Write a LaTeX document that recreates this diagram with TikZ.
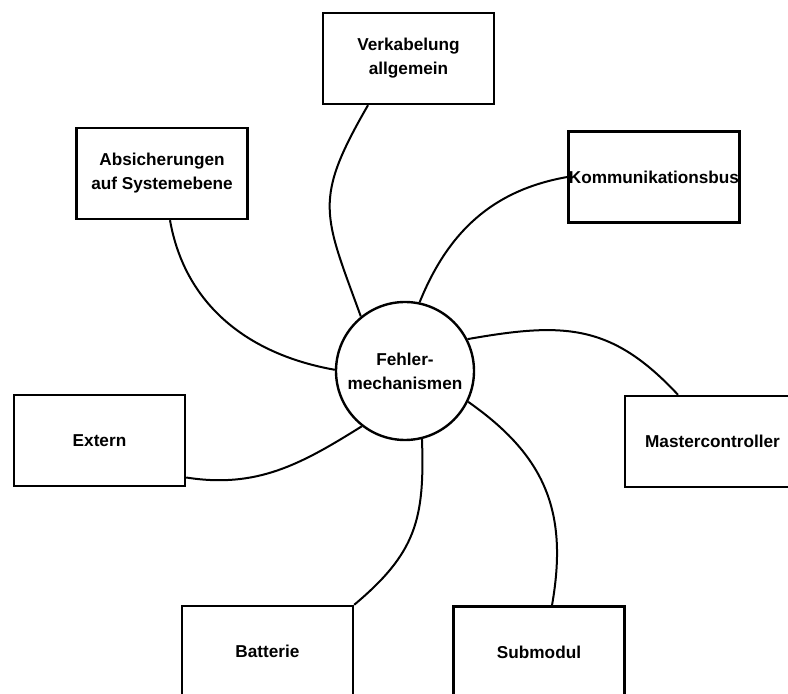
\documentclass[tikz,border=0pt]{standalone}
\usepackage{fontspec}
\setmainfont{Liberation Sans}
\begin{document}
\begin{tikzpicture}[x=1pt,y=1pt,
  lbl/.style={font=\bfseries\fontsize{17.2}{24}\selectfont, align=center},
  box/.style={lbl, draw, line width=2.4pt, minimum width=171pt, minimum height=91pt, inner sep=0pt},
  hub/.style={lbl, draw, circle, line width=2.4pt, minimum size=138pt, inner sep=0pt},
  link/.style={line width=2pt}]
\useasboundingbox (0,0) rectangle (788,694);
\clip (0,0) rectangle (788,694);

% central circle
\node[hub] (c) at (405,323) {Fehler-\\mechanismen};

% surrounding boxes
\node[box] (v) at (408.5,635.5) {Verkabelung\\allgemein};
\node[box] (a) at (162,520.5) {Absicherungen\\auf Systemebene};
\node[box] (k) at (654,517) {Kommunikationsbus};
\node[box] (e) at (99.5,253.5) {Extern};
\node[box, minimum width=175pt] (m) at (712.5,252.5) {Mastercontroller};
\node[box] (b) at (267.5,42.5) {Batterie};
\node[box] (s) at (539,42) {Submodul};

% spiral connectors
\draw[link] (c.129) .. controls +(110:110) and +(240:110) .. ([xshift=-40.5pt]v.south);
\draw[link] (c.78) to[out=68, in=190] (k.west);
\draw[link] (c.179) to[out=170, in=280] ([xshift=8pt]a.south);
\draw[link] (c.232) to[out=212, in=351] ([yshift=-37pt]e.east);
\draw[link] (c.27) to[out=10, in=133, looseness=1.15] ([xshift=-34.5pt]m.north);
\draw[link] (c.-26) to[out=-35, in=80, looseness=1.1] ([xshift=13pt]s.north);
\draw[link] (c.-76) to[out=-88, in=40, looseness=1.15] (b.north east);
\end{tikzpicture}
\end{document}
